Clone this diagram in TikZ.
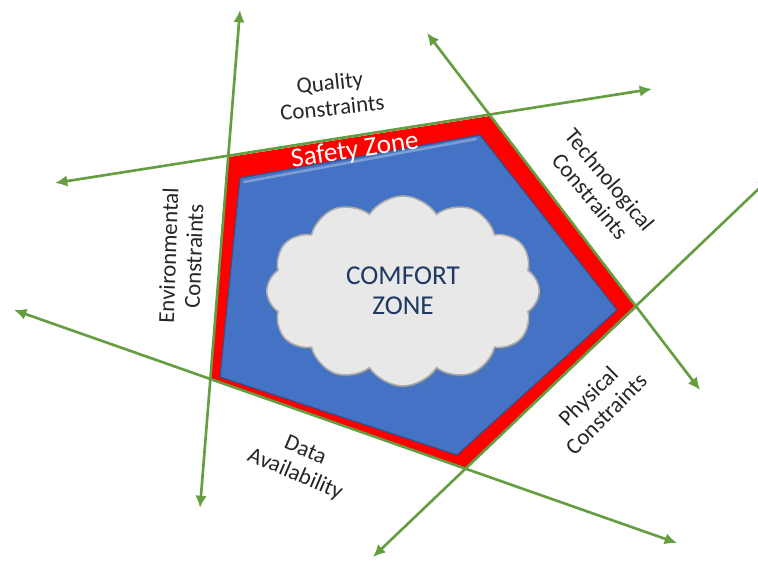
\documentclass[tikz,border=0pt]{standalone}
\usepackage{fontspec}
\setmainfont{Carlito}
\usetikzlibrary{arrows.meta, backgrounds, calc, positioning, shapes, shapes.symbols, shadows}

\definecolor{zone blue}{HTML}{4472C4}
\definecolor{zone red}{HTML}{FF0000}
\definecolor{axis green}{HTML}{659E40}
\definecolor{cloud grey}{HTML}{E8E8E8}
\definecolor{label grey}{HTML}{262626}
\definecolor{comfort navy}{HTML}{1F3864}

\begin{document}
\begin{tikzpicture}[x=0.02cm,y=-0.02cm,font=\fontsize{13}{14.5}\selectfont]
\tikzset{every node/.style={inner sep=1mm, outer sep=0mm}}

\tikzstyle{limit}=[<->, draw=axis green, line width=1.5pt, >={Latex[length=7pt,width=6.5pt]}]
\tikzstyle{constraint}=[align=center, text=label grey]
\tikzstyle{safety}=[fill=zone red]
\tikzstyle{comfort}=[fill=zone blue, draw=zone blue!70!black, line width=0.6pt]
\tikzstyle{comfort cloud}=[cloud, cloud puffs=12, cloud puff arc=115, cloud ignores aspect, draw=gray!65, fill=cloud grey, line width=0.9pt, minimum width=5.45cm, minimum height=3.8cm, align=center, text=comfort navy, font=\fontsize{15.5}{17}\selectfont, drop shadow={opacity=0.25, shadow xshift=1pt, shadow yshift=-1.5pt}]

\useasboundingbox (0,0) rectangle (758,564);

% ends of the constraint lines
\coordinate (env top) at (240,10);
\coordinate (env bot) at (200,508);
\coordinate (quality left) at (55,183);
\coordinate (quality right) at (652,89);
\coordinate (tech top) at (427,33);
\coordinate (tech bot) at (700,390);
\coordinate (data left) at (14,310);
\coordinate (data right) at (677,543);
\coordinate (phys bot) at (373,557);
\coordinate (phys top) at (770,178);

% safety zone corners
\coordinate (safe nw) at (229,157);
\coordinate (safe ne) at (490,116);
\coordinate (safe e) at (636,308);
\coordinate (safe s) at (465,468);
\coordinate (safe sw) at (211,379);

% comfort zone corners
\coordinate (comf nw) at (240,178);
\coordinate (comf ne) at (480,135);
\coordinate (comf e) at (617,310);
\coordinate (comf s) at (457,455);
\coordinate (comf sw) at (220,377);

\path[safety] (safe nw) -- (safe ne) -- (safe e) -- (safe s) -- (safe sw) -- cycle;
\path[comfort] (comf nw) -- (comf ne) -- (comf e) -- (comf s) -- (comf sw) -- cycle;
\draw[zone blue!70!white, line width=1.5pt, line cap=round] ($(comf nw)+(4,4)$) -- ($(comf ne)+(-4,4)$);

\node[text=white, rotate=8.5, font=\fontsize{15.5}{17}\selectfont] (safety label) at (355,151) {Safety Zone};

% constraint lines
\draw[limit] (env bot) -- (env top);
\draw[limit] (quality left) -- (quality right);
\draw[limit] (tech top) -- (tech bot);
\draw[limit] (data left) -- (data right);
\draw[limit] (phys bot) -- (phys top);

\node[comfort cloud] (comfort zone) at (403,291) {COMFORT\\ZONE};

\node[constraint, rotate=6] (quality label) at (331,95) {Quality\\Constraints};
\node[constraint, rotate=-50] (tech label) at (600,188) {Technological\\Constraints};
\node[constraint, rotate=88] (env label) at (181,256) {Environmental\\Constraints};
\node[constraint, rotate=-23] (data label) at (300,463) {Data\\Availability};
\node[constraint, rotate=45] (phys label) at (597,405) {Physical\\Constraints};

\end{tikzpicture}
\end{document}
